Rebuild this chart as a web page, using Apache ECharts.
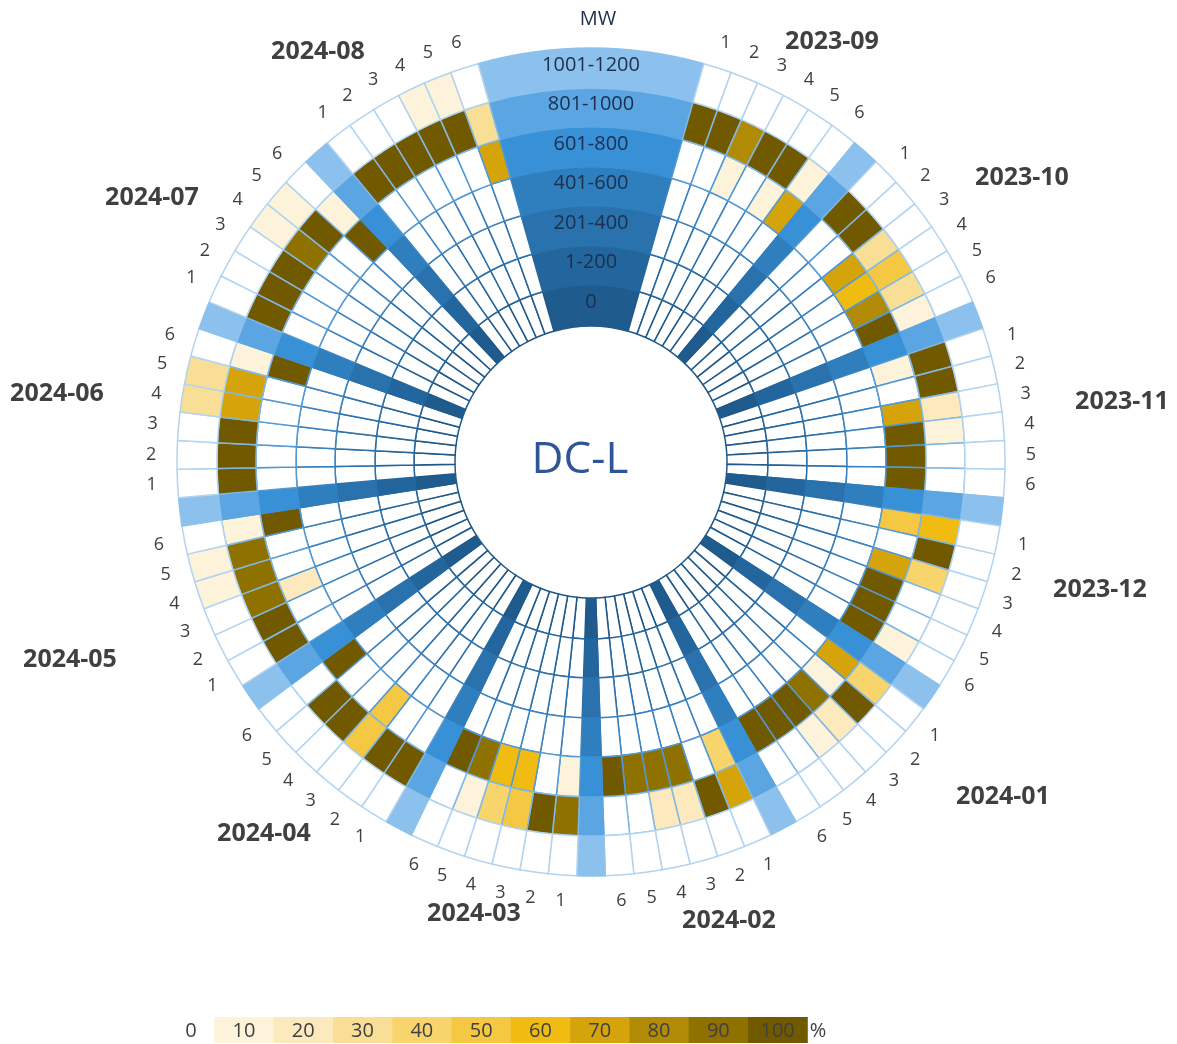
<!DOCTYPE html>
<html lang="en">
<head>
<meta charset="UTF-8">
<title>DC-L</title>
<script src="https://cdn.jsdelivr.net/npm/echarts@6/dist/echarts.min.js"></script>
<style>
    html, body { margin: 0; padding: 0; background: #fff; }
    #main { width: 1177px; height: 1044px; }
</style>
</head>
<body>
<div id="main"></div>
<script>
// months clockwise from the top, six periods in each
var months = ['2023-09', '2023-10', '2023-11', '2023-12', '2024-01', '2024-02',
              '2024-03', '2024-04', '2024-05', '2024-06', '2024-07', '2024-08'];
var periods = ['1', '2', '3', '4', '5', '6'];
// rings, inner to outer
var bands = ['0', '1-200', '201-400', '401-600', '601-800', '801-1000', '1001-1200'];
var pctTicks = [0, 10, 20, 30, 40, 50, 60, 70, 80, 90, 100];

// share of time (%) per ring, 6 values per month in month order
var mw0 =       [0,0,0,0,0,0, 0,0,0,0,0,0, 0,0,0,0,0,0, 0,0,0,0,0,0, 0,0,0,0,0,0, 0,0,0,0,0,0,
                 0,0,0,0,0,0, 0,0,0,0,0,0, 0,0,0,0,0,0, 0,0,0,0,0,0, 0,0,0,0,0,0, 0,0,0,0,0,0];
var mw1_200 =   [0,0,0,0,0,0, 0,0,0,0,0,0, 0,0,0,0,0,0, 0,0,0,0,0,0, 0,0,0,0,0,0, 0,0,0,0,0,0,
                 0,0,0,0,0,0, 0,0,0,0,0,0, 0,0,0,0,0,0, 0,0,0,0,0,0, 0,0,0,0,0,0, 0,0,0,0,0,0];
var mw201_400 = [0,0,0,0,0,0, 0,0,0,0,0,0, 0,0,0,0,0,0, 0,0,0,0,0,0, 0,0,0,0,0,0, 0,0,0,0,0,0,
                 0,0,0,0,0,0, 0,0,0,0,0,0, 0,0,0,0,0,0, 0,0,0,0,0,0, 0,0,0,0,0,0, 0,0,0,0,0,0];
var mw401_600 = [0,0,0,0,0,0, 0,0,0,0,0,0, 0,0,0,0,0,0, 0,0,0,0,0,0, 0,0,0,0,0,0, 0,0,0,0,0,0,
                 0,0,0,0,0,0, 0,0,0,0,0,0, 0,0,0,0,0,0, 0,0,0,0,0,0, 0,0,0,0,0,0, 0,0,0,0,0,0];
var mw601_800 = [0,0,10,0,10,70, 0,0,70,60,80,100, 10,0,70,100,100,100, 50,0,70,100,100,100,
                 70,10,90,100,100,100, 40,0,90,90,90,100, 10,0,60,60,90,100, 0,0,50,0,0,100,
                 0,0,20,0,0,100, 0,0,0,0,0,100, 0,0,0,0,0,100, 0,0,0,0,0,70];
var mw801_1000 = [100,100,80,100,100,10, 100,100,30,50,30,10, 100,100,20,10,0,0, 60,100,40,0,0,10,
                  40,100,20,10,0,0, 70,100,20,20,0,0, 90,100,50,40,10,0, 100,100,50,100,100,0,
                  100,100,90,90,90,10, 100,100,100,70,70,10, 100,100,100,90,100,10, 100,100,100,100,100,30];
var mw1001_1200 = [0,0,0,0,0,0, 0,0,0,0,0,0, 0,0,0,0,0,0, 0,0,0,0,0,0, 0,0,0,0,0,0, 0,0,0,0,0,0,
                   0,0,0,0,0,0, 0,0,0,0,0,0, 0,0,0,10,10,0, 0,0,0,30,30,0, 0,0,0,10,10,0, 0,0,0,10,10,0];

var ringValues = [mw0, mw1_200, mw201_400, mw401_600, mw601_800, mw801_1000, mw1001_1200];

var heatColors = ['#ffffff', '#fdf3da', '#fce9bd', '#f9de95', '#f7d46c', '#f4c843',
                  '#f1bc12', '#d5a40b', '#b18b05', '#8f7100', '#715900'];
var bandColors = ['#1f5b8c', '#23669e', '#2972ad', '#2f7ebd', '#3890d6', '#5ba6e2', '#8dc1ed'];
var gridColors = ['#1f5888', '#24659c', '#2b71ab', '#3a82c0', '#529ad6', '#82b8e4', '#b3d4f0'];

var center = [591, 462];
var radii = [136, 177, 216, 256, 295, 335, 374, 414];
// 8 slots for the band sector, 72 cells, 11 month separators
var slot = 360 / 91;
var startAngle = 90 + 4 * slot;

function ringItems(i) {
    var items = [{
        value: 8, name: bands[i],
        itemStyle: { color: bandColors[i], borderColor: bandColors[i] },
        label: { show: true, formatter: bands[i] }
    }];
    for (var m = 0; m < months.length; m++) {
        for (var p = 0; p < periods.length; p++) {
            var v = ringValues[i][m * 6 + p];
            items.push({ value: 1, name: months[m] + '-' + periods[p],
                itemStyle: { color: heatColors[Math.round(v / 10)] } });
        }
        if (m < months.length - 1) {
            items.push({ value: 1, name: 'sep' + m,
                itemStyle: { color: bandColors[i], borderColor: bandColors[i] } });
        }
    }
    return items;
}

function periodItems() {
    var items = [{ value: 8, name: 'top', label: { show: false } }];
    for (var m = 0; m < months.length; m++) {
        for (var p = 0; p < periods.length; p++) {
            items.push({ value: 1, name: periods[p] });
        }
        if (m < months.length - 1) items.push({ value: 1, name: '', label: { show: false } });
    }
    return items;
}

var series = [];
for (var i = 0; i < bands.length; i++) {
    series.push({
        type: 'pie',
        center: center,
        radius: [radii[i], radii[i + 1]],
        startAngle: startAngle,
        clockwise: true,
        silent: true,
        avoidLabelOverlap: false,
        itemStyle: { borderColor: gridColors[i], borderWidth: 1.5 },
        label: {
            show: false, position: 'inside', color: '#1c2f4d',
            fontFamily: 'Open Sans', fontSize: 20
        },
        labelLine: { show: false },
        emphasis: { disabled: true },
        data: ringItems(i)
    });
}
series.push({
    type: 'pie',
    center: center,
    radius: [426, 448],
    startAngle: startAngle,
    clockwise: true,
    silent: true,
    avoidLabelOverlap: false,
    itemStyle: { color: 'rgba(0,0,0,0)', borderWidth: 0 },
    label: {
        show: true, position: 'inside', formatter: '{b}', color: '#404040',
        fontFamily: 'Open Sans', fontSize: 18
    },
    labelLine: { show: false },
    emphasis: { disabled: true },
    data: periodItems()
});

var monthLabelPos = [[832, 42], [1022, 178], [1122, 402], [1100, 590], [1003, 797], [729, 921],
                     [474, 914], [264, 834], [70, 660], [57, 394], [152, 198], [318, 52]];

var graphics = [];
months.forEach(function (name, k) {
    graphics.push({
        type: 'text', x: monthLabelPos[k][0], y: monthLabelPos[k][1], silent: true,
        style: { text: name, fill: '#404040', font: 'bold 25px "Open Sans"',
                 align: 'center', verticalAlign: 'middle',
                 textAlign: 'center', textVerticalAlign: 'middle' }
    });
});
graphics.push({
    type: 'text', x: 598, y: 19, silent: true,
    style: { text: 'MW', fill: '#1c2f4d', font: '20px "Open Sans"',
             align: 'center', verticalAlign: 'middle', textAlign: 'center', textVerticalAlign: 'middle' }
});
graphics.push({
    type: 'text', x: 580, y: 460, silent: true,
    style: { text: 'DC-L', fill: '#2f5597', font: '44px "Open Sans"',
             align: 'center', verticalAlign: 'middle', textAlign: 'center', textVerticalAlign: 'middle' }
});

// colour key along the bottom
var keyLeft = 155, keyStep = 59.3;
pctTicks.forEach(function (t, k) {
    graphics.push({
        type: 'rect', silent: true,
        shape: { x: keyLeft + k * keyStep, y: 1017, width: keyStep + 0.5, height: 26 },
        style: { fill: heatColors[k] }
    });
});
pctTicks.forEach(function (t, k) {
    graphics.push({
        type: 'text', x: (k === 0 ? 191 : keyLeft + keyStep / 2 + k * keyStep), y: 1031, silent: true,
        style: { text: String(t), fill: '#404040', font: '20px "Open Sans"',
                 align: 'center', verticalAlign: 'middle', textAlign: 'center', textVerticalAlign: 'middle' }
    });
});
graphics.push({
    type: 'text', x: 818, y: 1031, silent: true,
    style: { text: '%', fill: '#404040', font: '20px "Open Sans"',
             align: 'center', verticalAlign: 'middle', textAlign: 'center', textVerticalAlign: 'middle' }
});

var chart = echarts.init(document.getElementById('main'));
chart.setOption({
    backgroundColor: '#ffffff',
    animation: false,
    series: series,
    graphic: graphics
});
</script>
</body>
</html>
